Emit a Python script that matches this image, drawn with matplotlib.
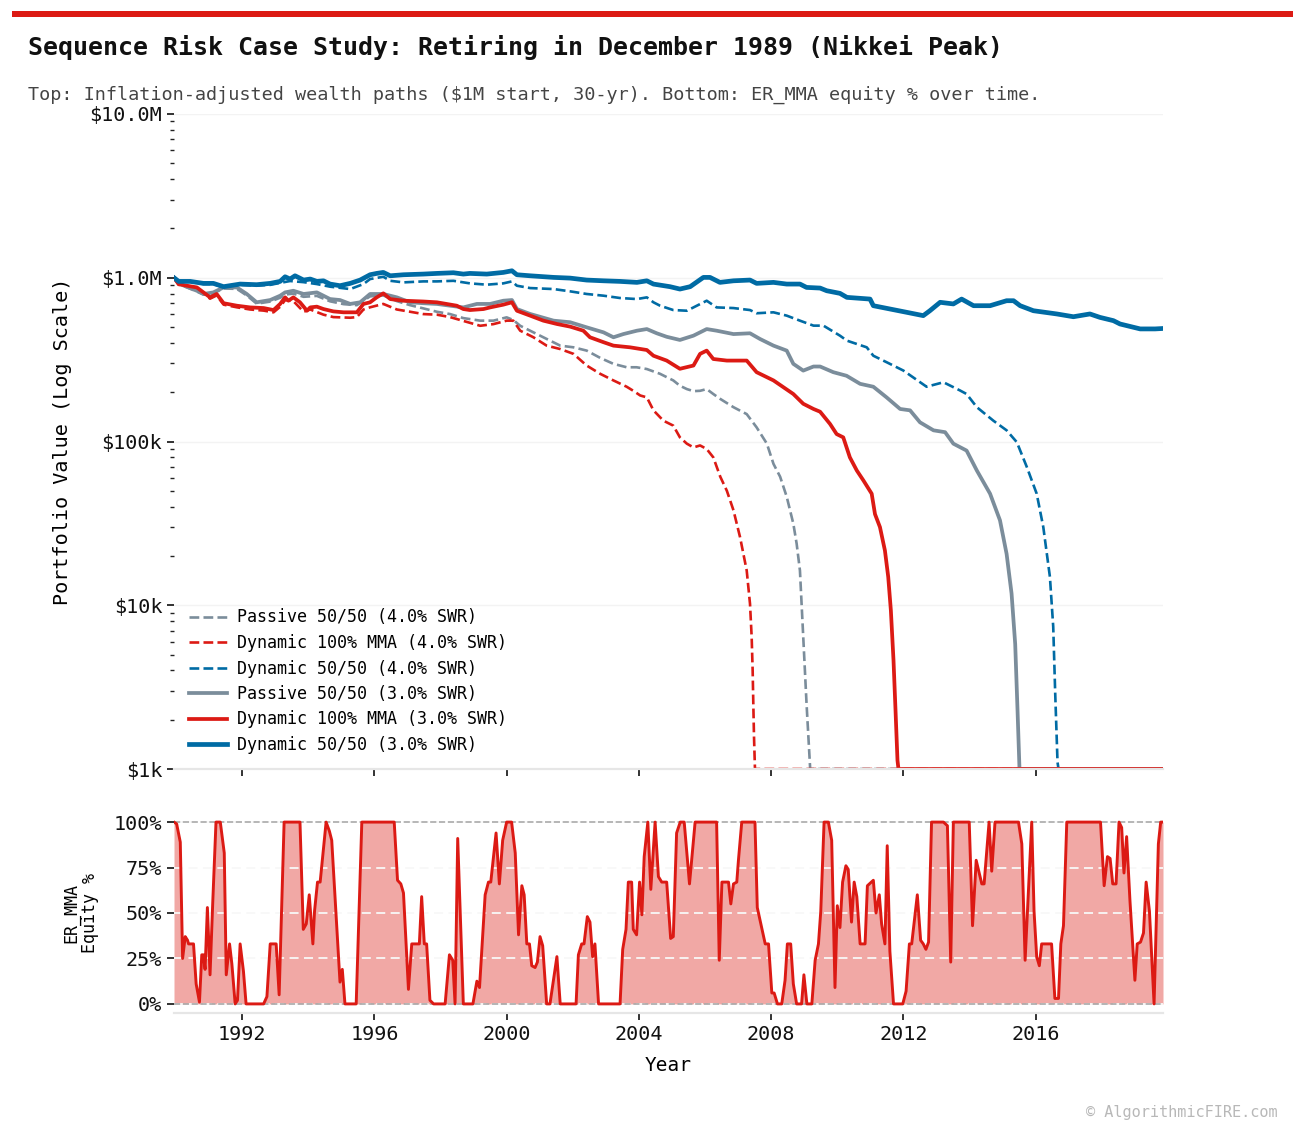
import matplotlib
matplotlib.use("Agg")
from matplotlib import pyplot as plt
import matplotlib.patches as patches
from matplotlib.ticker import FuncFormatter, LogLocator, NullFormatter, PercentFormatter

plt.rcParams['font.family'] = ['DejaVu Sans Mono', 'DejaVu Sans']

BLUE = '#006ba4'
GREY = '#7b8d9b'
RED = '#dc1a14'

# ---- wealth paths, values in $k, x in decimal years ----
# Passive 50/50 (4.0% SWR)
p4_yr = [1989.94, 1990.12, 1990.63, 1990.83, 1991.13, 1991.44, 1991.84, 1992.14, 1992.44, 1992.85,
         1993.15, 1993.30, 1993.55, 1993.86, 1994.26, 1994.66, 1995.07, 1995.47, 1995.87, 1996.27,
         1996.68, 1997.08, 1997.48, 1997.89, 1998.29, 1998.69, 1999.20, 1999.60, 2000.00, 2000.20,
         2000.41, 2000.81, 2001.21, 2001.62, 2002.02, 2002.42, 2002.83, 2003.23, 2003.63, 2003.93,
         2004.24, 2004.64, 2005.04, 2005.24, 2005.45, 2005.65, 2005.85, 2006.05, 2006.25, 2006.46,
         2006.86, 2007.26, 2007.56, 2007.87, 2008.07, 2008.27, 2008.47, 2008.67, 2008.77, 2008.87,
         2008.92, 2008.97, 2009.07, 2009.18, 2019.85]
p4_val = [1000, 910, 825, 790, 805, 860, 855, 780, 695, 715,
          755, 790, 800, 765, 775, 718, 690, 680, 770, 780,
          720, 680, 650, 620, 600, 567, 547, 547, 573, 552,
          509, 464, 423, 385, 376, 359, 324, 298, 284, 284,
          277, 259, 236, 219, 209, 203, 204, 209, 195, 182,
          162, 147, 122, 97, 73, 61, 46, 31.5, 23.8, 16.3,
          10.2, 6.4, 2.5, 1.0, 1.0]

# Dynamic 100% MMA (4.0% SWR)
r4_yr = [1989.94, 1990.08, 1990.33, 1990.63, 1990.83, 1991.03, 1991.23, 1991.44, 1991.84, 1992.24,
         1992.65, 1992.95, 1993.15, 1993.30, 1993.55, 1993.86, 1994.06, 1994.46, 1994.76, 1995.27,
         1995.47, 1995.67, 1995.87, 1996.27, 1996.68, 1997.08, 1997.48, 1997.89, 1998.29, 1998.69,
         1999.20, 1999.60, 2000.00, 2000.20, 2000.41, 2000.81, 2001.21, 2001.62, 2002.02, 2002.42,
         2002.83, 2003.23, 2003.63, 2003.83, 2004.04, 2004.24, 2004.44, 2004.74, 2005.04, 2005.24,
         2005.45, 2005.65, 2005.85, 2006.05, 2006.25, 2006.46, 2006.66, 2006.86, 2007.06, 2007.26,
         2007.36, 2007.41, 2007.44, 2007.46, 2007.48, 2007.51, 2019.85]
r4_val = [1000, 905, 885, 860, 800, 745, 780, 685, 660, 640,
          630, 615, 665, 730, 720, 620, 640, 595, 575, 570,
          575, 640, 660, 692, 640, 620, 600, 595, 575, 545,
          509, 521, 547, 547, 475, 433, 385, 367, 343, 291,
          259, 236, 216, 204, 191, 186, 155, 134, 125, 106,
          97, 92, 94.6, 90, 80, 61, 50, 38, 26, 16.3,
          10.2, 6.4, 4.0, 2.5, 1.6, 1.0, 1.0]

# Dynamic 50/50 (4.0% SWR)
b4_yr = [1989.94, 1990.08, 1990.43, 1990.83, 1991.13, 1991.44, 1991.94, 1992.44, 1992.85, 1993.15,
         1993.45, 1993.86, 1994.26, 1994.66, 1995.27, 1995.67, 1995.87, 1996.27, 1996.48, 1996.88,
         1997.48, 1997.89, 1998.39, 1998.89, 1999.40, 1999.90, 2000.16, 2000.31, 2000.71, 2001.42,
         2001.92, 2002.42, 2002.93, 2003.43, 2003.94, 2004.24, 2004.44, 2004.64, 2005.04, 2005.45,
         2005.65, 2006.05, 2006.35, 2006.86, 2007.36, 2007.56, 2008.07, 2008.47, 2008.87, 2009.28,
         2009.58, 2010.08, 2010.29, 2010.89, 2011.09, 2011.49, 2012.00, 2012.70, 2013.21, 2013.71,
         2013.91, 2014.22, 2014.72, 2015.12, 2015.43, 2015.73, 2016.03, 2016.23, 2016.43, 2016.53,
         2016.59, 2016.66, 2016.69, 2019.85]
b4_val = [1000, 945, 945, 915, 915, 873, 905, 895, 905, 930,
          955, 940, 915, 882, 853, 915, 982, 1014, 958, 937,
          950, 950, 958, 924, 907, 924, 950, 894, 865, 853,
          826, 796, 777, 752, 741, 759, 708, 675, 635, 629,
          659, 724, 659, 653, 635, 607, 615, 587, 547, 510,
          510, 443, 413, 376, 334, 305, 271, 216, 230, 205,
          195, 162, 134, 117, 99, 70, 48, 30, 14.9, 7.4,
          2.9, 1.1, 1.0, 1.0]

# Passive 50/50 (3.0% SWR)
p3_yr = [1989.94, 1990.12, 1990.63, 1990.83, 1991.13, 1991.44, 1991.84, 1992.14, 1992.44, 1992.85,
         1993.15, 1993.30, 1993.55, 1993.86, 1994.26, 1994.66, 1994.96, 1995.27, 1995.57, 1995.87,
         1996.27, 1996.68, 1997.08, 1997.48, 1997.89, 1998.29, 1998.69, 1999.10, 1999.50, 1999.90,
         2000.16, 2000.31, 2000.71, 2001.42, 2001.92, 2002.42, 2002.93, 2003.23, 2003.53, 2003.94,
         2004.24, 2004.54, 2004.84, 2005.24, 2005.65, 2006.05, 2006.35, 2006.86, 2007.36, 2007.66,
         2008.07, 2008.47, 2008.67, 2008.97, 2009.28, 2009.48, 2009.88, 2010.28, 2010.69, 2011.09,
         2011.49, 2011.90, 2012.20, 2012.50, 2012.91, 2013.26, 2013.51, 2013.91, 2014.22, 2014.62,
         2014.92, 2015.12, 2015.27, 2015.38, 2015.45, 2015.51, 2019.85]
p3_val = [1000, 915, 833, 796, 814, 873, 873, 796, 708, 731,
          777, 814, 833, 796, 814, 741, 731, 692, 708, 796,
          796, 759, 708, 699, 692, 675, 659, 692, 692, 724,
          731, 644, 601, 547, 535, 498, 464, 433, 453, 475,
          486, 458, 436, 417, 443, 486, 475, 453, 458, 423,
          385, 359, 298, 271, 287, 287, 265, 252, 225, 216,
          186, 158, 155, 131, 117, 114, 97, 88, 66.5, 48,
          33, 20.6, 11.8, 5.8, 2.3, 1.0, 1.0]

# Dynamic 100% MMA (3.0% SWR)
r3_yr = [1989.94, 1990.08, 1990.33, 1990.63, 1990.83, 1991.03, 1991.23, 1991.44, 1991.84, 1992.24,
         1992.65, 1992.95, 1993.15, 1993.30, 1993.40, 1993.55, 1993.75, 1993.86, 1993.96, 1994.06,
         1994.26, 1994.46, 1994.76, 1995.07, 1995.47, 1995.67, 1995.87, 1996.07, 1996.27, 1996.48,
         1996.88, 1997.48, 1997.89, 1998.49, 1998.69, 1998.89, 1999.30, 1999.50, 1999.90, 2000.16,
         2000.31, 2000.71, 2001.11, 2001.52, 2001.92, 2002.32, 2002.52, 2002.93, 2003.23, 2003.73,
         2004.24, 2004.44, 2004.84, 2005.24, 2005.65, 2005.85, 2006.05, 2006.25, 2006.66, 2007.26,
         2007.56, 2008.07, 2008.67, 2008.97, 2009.28, 2009.48, 2009.78, 2009.98, 2010.18, 2010.38,
         2010.59, 2010.79, 2011.04, 2011.14, 2011.29, 2011.44, 2011.54, 2011.62, 2011.70, 2011.76,
         2011.82, 2011.85, 2019.85]
r3_val = [1000, 915, 894, 873, 814, 759, 796, 699, 675, 659,
          653, 635, 692, 759, 724, 759, 708, 666, 629, 659,
          666, 644, 623, 615, 615, 692, 708, 759, 803, 741,
          724, 716, 708, 675, 644, 635, 644, 659, 685, 708,
          629, 587, 547, 522, 503, 475, 433, 404, 385, 376,
          362, 334, 312, 278, 291, 343, 359, 319, 312, 312,
          265, 236, 195, 170, 158, 152, 128, 111, 106, 80,
          66.5, 57.8, 48, 36, 30, 21.6, 14.9, 9.3, 4.6, 2.3,
          1.13, 1.0, 1.0]

# Dynamic 50/50 (3.0% SWR)
b3_yr = [1989.94, 1990.08, 1990.43, 1990.83, 1991.13, 1991.44, 1991.94, 1992.44, 1992.85, 1993.15,
         1993.30, 1993.45, 1993.60, 1993.86, 1994.06, 1994.26, 1994.46, 1994.66, 1994.96, 1995.27,
         1995.57, 1995.87, 1996.07, 1996.27, 1996.48, 1996.88, 1997.48, 1997.89, 1998.39, 1998.69,
         1998.89, 1999.40, 1999.90, 2000.16, 2000.31, 2000.71, 2001.42, 2001.92, 2002.42, 2002.93,
         2003.43, 2003.94, 2004.24, 2004.44, 2004.94, 2005.24, 2005.55, 2005.95, 2006.15, 2006.45,
         2006.86, 2007.36, 2007.56, 2008.07, 2008.47, 2008.87, 2009.07, 2009.48, 2009.68, 2010.08,
         2010.29, 2010.99, 2011.09, 2011.60, 2012.10, 2012.60, 2012.80, 2013.11, 2013.51, 2013.76,
         2014.12, 2014.62, 2015.12, 2015.33, 2015.53, 2015.93, 2016.64, 2017.14, 2017.64, 2017.94,
         2018.35, 2018.55, 2019.16, 2019.61, 2019.85]
b3_val = [1000, 950, 950, 924, 924, 882, 915, 907, 924, 950,
          1014, 982, 1028, 968, 982, 950, 958, 915, 894, 924,
          968, 1043, 1063, 1078, 1028, 1043, 1053, 1063, 1073, 1053,
          1063, 1053, 1078, 1103, 1043, 1028, 1005, 995, 968, 958,
          950, 937, 958, 915, 882, 853, 882, 1005, 1005, 937,
          958, 968, 924, 937, 915, 915, 873, 865, 833, 803,
          759, 741, 675, 644, 615, 587, 629, 708, 692, 741,
          675, 675, 724, 724, 675, 629, 601, 578, 601, 573,
          547, 522, 487, 487, 490]

# ---- ER_MMA equity % ----
eq_yr = [1989.94, 1990.02, 1990.13, 1990.20, 1990.28, 1990.35, 1990.38, 1990.53, 1990.61, 1990.71,
         1990.78, 1990.83, 1990.88, 1990.95, 1991.03, 1991.11, 1991.21, 1991.34, 1991.46, 1991.52,
         1991.62, 1991.69, 1991.79, 1991.86, 1991.94, 1992.04, 1992.12, 1992.65, 1992.75, 1992.85,
         1993.03, 1993.12, 1993.27, 1993.75, 1993.85, 1993.94, 1994.03, 1994.14, 1994.19, 1994.28,
         1994.36, 1994.54, 1994.64, 1994.71, 1994.96, 1995.03, 1995.11, 1995.45, 1995.62, 1996.60,
         1996.70, 1996.80, 1996.88, 1997.03, 1997.13, 1997.36, 1997.43, 1997.51, 1997.58, 1997.68,
         1997.79, 1998.14, 1998.27, 1998.37, 1998.44, 1998.52, 1998.69, 1998.98, 1999.10, 1999.18,
         1999.35, 1999.45, 1999.52, 1999.68, 1999.78, 1999.88, 2000.00, 2000.15, 2000.26, 2000.36,
         2000.46, 2000.53, 2000.61, 2000.69, 2000.76, 2000.86, 2000.93, 2001.01, 2001.09, 2001.21,
         2001.31, 2001.52, 2001.62, 2002.10, 2002.17, 2002.27, 2002.34, 2002.44, 2002.52, 2002.60,
         2002.67, 2002.78, 2003.43, 2003.51, 2003.61, 2003.68, 2003.78, 2003.83, 2003.93, 2004.02,
         2004.09, 2004.16, 2004.27, 2004.36, 2004.49, 2004.59, 2004.69, 2004.84, 2004.96, 2005.04,
         2005.14, 2005.25, 2005.37, 2005.53, 2005.70, 2006.35, 2006.43, 2006.51, 2006.71, 2006.78,
         2006.86, 2006.96, 2007.01, 2007.11, 2007.51, 2007.58, 2007.82, 2007.92, 2008.02, 2008.09,
         2008.19, 2008.32, 2008.42, 2008.49, 2008.59, 2008.67, 2008.77, 2008.92, 2008.99, 2009.08,
         2009.23, 2009.33, 2009.43, 2009.50, 2009.60, 2009.73, 2009.83, 2009.93, 2010.00, 2010.08,
         2010.16, 2010.26, 2010.33, 2010.43, 2010.51, 2010.59, 2010.69, 2010.84, 2010.91, 2011.09,
         2011.17, 2011.27, 2011.34, 2011.44, 2011.51, 2011.59, 2011.70, 2011.98, 2012.08, 2012.18,
         2012.25, 2012.42, 2012.52, 2012.60, 2012.68, 2012.76, 2012.85, 2013.21, 2013.33, 2013.43,
         2013.51, 2013.99, 2014.09, 2014.20, 2014.37, 2014.44, 2014.59, 2014.67, 2014.77, 2015.48,
         2015.58, 2015.68, 2015.88, 2015.95, 2016.03, 2016.11, 2016.18, 2016.48, 2016.58, 2016.69,
         2016.76, 2016.84, 2016.94, 2017.96, 2018.07, 2018.17, 2018.25, 2018.33, 2018.43, 2018.52,
         2018.60, 2018.67, 2018.75, 2018.85, 2019.00, 2019.07, 2019.17, 2019.26, 2019.34, 2019.44,
         2019.58, 2019.71, 2019.78, 2019.85]
eq_pct = [100, 99, 89, 25, 37, 35, 33, 33, 11, 1,
          27, 27, 19, 53, 16, 55, 100, 100, 83, 16,
          33, 22, 0, 2, 33, 18, 0, 0, 4, 33,
          33, 5, 100, 100, 41, 44, 60, 33, 51, 67,
          67, 100, 95, 90, 12, 19, 0, 0, 100, 100,
          68, 66, 61, 8, 33, 33, 59, 33, 33, 2,
          0, 0, 27, 24, 0, 91, 0, 0, 12.5, 9,
          60, 67, 67, 94, 66, 90, 100, 100, 83, 38,
          65, 60, 33, 33, 21, 20, 23, 37, 32, 0,
          0, 26, 0, 0, 27, 33, 33, 48, 45, 26,
          33, 0, 0, 30, 41, 67, 67, 41, 38, 67,
          49, 81, 100, 63, 100, 70, 67, 67, 36, 37,
          94, 100, 100, 66, 100, 100, 24, 67, 67, 55,
          66, 67, 79, 100, 100, 53, 33, 33, 6, 6,
          0, 0, 13, 33, 33, 11, 0, 0, 16, 0,
          0, 24, 33, 51, 100, 100, 90, 9, 54, 42,
          67, 76, 74, 45, 67, 59, 33, 33, 65, 68,
          50, 60, 44, 33, 87, 29, 0, 0, 7, 33,
          33, 60, 35, 33, 30, 34, 100, 100, 98, 23,
          100, 100, 43, 79, 66, 66, 100, 73, 100, 100,
          88, 24, 100, 51, 26, 21, 33, 33, 3, 3,
          33, 43, 100, 100, 65, 81, 80, 66, 66, 100,
          97, 72, 92, 57, 13, 33, 34, 39, 67, 51,
          0, 88, 100, 100]

year_ticks = [1992, 1996, 2000, 2004, 2008, 2012, 2016]

series = [
    ("Passive 50/50 (4.0% SWR)", p4_yr, p4_val, GREY, "--", 1.9),
    ("Dynamic 100% MMA (4.0% SWR)", r4_yr, r4_val, RED, "--", 1.9),
    ("Dynamic 50/50 (4.0% SWR)", b4_yr, b4_val, BLUE, "--", 1.9),
    ("Passive 50/50 (3.0% SWR)", p3_yr, p3_val, GREY, "-", 2.7),
    ("Dynamic 100% MMA (3.0% SWR)", r3_yr, r3_val, RED, "-", 2.7),
    ("Dynamic 50/50 (3.0% SWR)", b3_yr, b3_val, BLUE, "-", 3.4),
]

fig = plt.figure(figsize=(13.05, 11.35), dpi=100)
W, H = 1305, 1135

# red bar on top
fig.add_artist(patches.Rectangle((12 / W, 1 - 16.5 / H), 1281 / W, 5 / H,
                                 transform=fig.transFigure, color=RED, lw=0))
fig.text(28 / W, 1 - 47 / H, "Sequence Risk Case Study: Retiring in December 1989 (Nikkei Peak)",
         fontsize=17.9, fontweight="bold", color="#111111", va="center", ha="left", parse_math=False)
fig.text(28 / W, 1 - 95 / H,
         "Top: Inflation-adjusted wealth paths ($1M start, 30-yr). Bottom: ER_MMA equity % over time.",
         fontsize=13.3, color="#444444", va="center", ha="left", parse_math=False)
fig.text(1278 / W, 1 - 1112 / H, "\u00a9 AlgorithmicFIRE.com", fontsize=11, color="#b8b8b8",
         ha="right", va="center", parse_math=False)

ax = fig.add_axes([174 / W, 1 - 769 / H, 989 / W, 655 / H])
ax2 = fig.add_axes([174 / W, 1 - 1013 / H, 989 / W, 200 / H])

for label, yrs, vals, col, ls, lw in series:
    ax.plot(yrs, [v * 1000 for v in vals], color=col, linestyle=ls, lw=lw, label=label)

ax.set_yscale("log")
ax.set_ylim(1e3, 1e7)
ax.set_xlim(1989.94, 2019.85)
ax.yaxis.set_major_locator(LogLocator(base=10))
ax.yaxis.set_minor_locator(LogLocator(base=10, subs=range(2, 10)))
ax.yaxis.set_minor_formatter(NullFormatter())


def money(v, pos):
    if v >= 1e6:
        return f"${v / 1e6:.1f}M"
    return f"${v / 1e3:.0f}k"


ax.yaxis.set_major_formatter(FuncFormatter(money))
ax.set_xticks(year_ticks)
ax.set_xticklabels([])
ax.set_ylabel("Portfolio Value (Log Scale)", fontsize=14.5)
ax.yaxis.set_label_coords(-0.103, 0.5)
ax.grid(axis="y", which="major", color="#f3f3f3", lw=1)
ax.legend(loc="lower left", frameon=False, fontsize=12, handlelength=2.3,
          handletextpad=0.6, labelspacing=0.45)

# bottom panel
ax2.fill_between(eq_yr, eq_pct, color=RED, alpha=0.38, lw=0)
ax2.plot(eq_yr, eq_pct, color=RED, lw=2.1)
ax2.axhline(100, color="#aaaaaa", ls="--", lw=1.2, zorder=1.8)
ax2.axhline(0, color="#aaaaaa", ls="--", lw=1.2, zorder=1.8)
ax2.set_ylim(-5, 105)
ax2.set_xlim(1989.94, 2019.85)
ax2.set_yticks([0, 25, 50, 75, 100])
ax2.yaxis.set_major_formatter(PercentFormatter(100, decimals=0))
ax2.set_xticks(year_ticks)
ax2.set_xticklabels([str(y) for y in year_ticks])
ax2.grid(axis="y", color="#f8f8f8", ls=(0, (5, 3)), lw=1.3)
ax2.set_ylabel("ER_MMA\nEquity %", fontsize=12, linespacing=1.0)
ax2.yaxis.set_label_coords(-0.076, 0.5)
ax2.set_xlabel("Year", fontsize=14, labelpad=9)

for a in (ax, ax2):
    for s in ("top", "right", "left"):
        a.spines[s].set_visible(False)
    a.spines["bottom"].set_color("#e6e6e6")
    a.spines["bottom"].set_linewidth(1.6)
    a.tick_params(axis="both", which="major", direction="out", length=5, width=1.3,
                  color="#222222", labelsize=14.5, labelcolor="#111111")
    a.tick_params(axis="y", which="minor", direction="out", length=3, width=1.0, color="#222222")

fig.savefig("out.png", dpi=100)
